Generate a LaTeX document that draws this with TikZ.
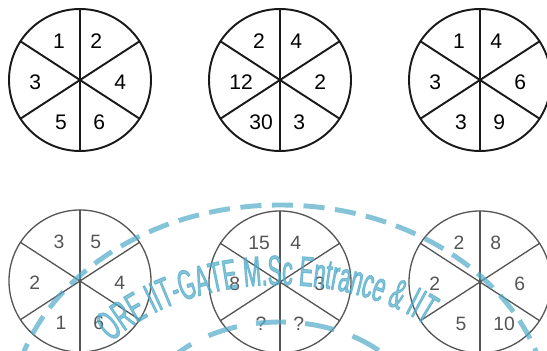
\documentclass[tikz,border=0pt]{standalone}
\usepackage{fontspec}
\setmainfont{Liberation Sans}
\newfontfamily\wmfont[FakeStretch=0.5, FakeBold=2]{Liberation Sans}
\usepackage{xcolor}
\usetikzlibrary{decorations.text}
\definecolor{wmblue}{RGB}{80,170,200}
\definecolor{dimgrey}{RGB}{85,85,85}
\tikzset{
  rim/.style={line width=1.1pt, draw=black!90},
  dimrim/.style={line width=0.75pt, draw=dimgrey},
  num/.style={inner sep=0pt, font=\fontsize{12}{12}\selectfont},
  dimnum/.style={inner sep=0pt, text=dimgrey, font=\fontsize{11}{11}\selectfont},
  wmdash/.style={draw=wmblue, line width=2.8pt, line cap=butt},
  every picture/.style={line cap=round, line join=round}
}

\begin{document}
\begin{tikzpicture}[x=0.02cm, y=-0.02cm]
  \useasboundingbox (0,0) rectangle (547,351);
  \clip (0,0) rectangle (547,351);
  % wheels: UL / UR / left / right / LL / LR
  \foreach \w/\cx/\cy/\st/\ns/\qa/\qb/\qc/\qd/\qe/\qf in {
      w1/80/80/rim/num/1/2/3/4/5/6,
      w2/280/80/rim/num/2/4/12/2/30/3,
      w3/480/80/rim/num/1/4/3/6/3/9,
      w4/80/281/dimrim/dimnum/3/5/2/4/1/6,
      w5/280/282/dimrim/dimnum/15/4/8/3/?/?,
      w6/480/282/dimrim/dimnum/2/8/2/6/5/10}{
    \coordinate (\w) at (\cx,\cy);
    \draw[\st] (\w) circle[radius=71];
    \foreach \t in {90,33,-33}
      \draw[\st] (\w) ++(\t:71) -- ++(\t+180:142);
    \node[\ns] (\w-ul) at (\cx-21,\cy-39) {\qa};
    \node[\ns, anchor=west] (\w-ur) at (\cx+10,\cy-39) {\qb};
    \node[\ns, anchor=west] (\w-l) at (\cx-51,\cy+2) {\qc};
    \node[\ns, anchor=west] (\w-r) at (\cx+34,\cy+2) {\qd};
    \node[\ns] (\w-ll) at (\cx-19,\cy+42) {\qe};
    \node[\ns, anchor=west] (\w-lr) at (\cx+13,\cy+42) {\qf};
  }
  % watermark stamp
  \begin{scope}[opacity=0.7]
    \draw[wmdash, dash pattern=on 12pt off 6pt]
      (280,420) ellipse[x radius=270, y radius=215];
    \draw[wmdash, dash pattern=on 17pt off 11pt]
      (280,420) ellipse[x radius=140, y radius=98];
    \path[decorate, decoration={text along path, text align=center,
        text color=wmblue,
        text={|\wmfont\fontsize{24}{24}\selectfont|ORE IIT-GATE M.Sc Entrance {\&} IIT}}]
      (280,435) ++(172:215 and 150) arc[start angle=172, end angle=357, x radius=215, y radius=150];
  \end{scope}
\end{tikzpicture}
\end{document}
